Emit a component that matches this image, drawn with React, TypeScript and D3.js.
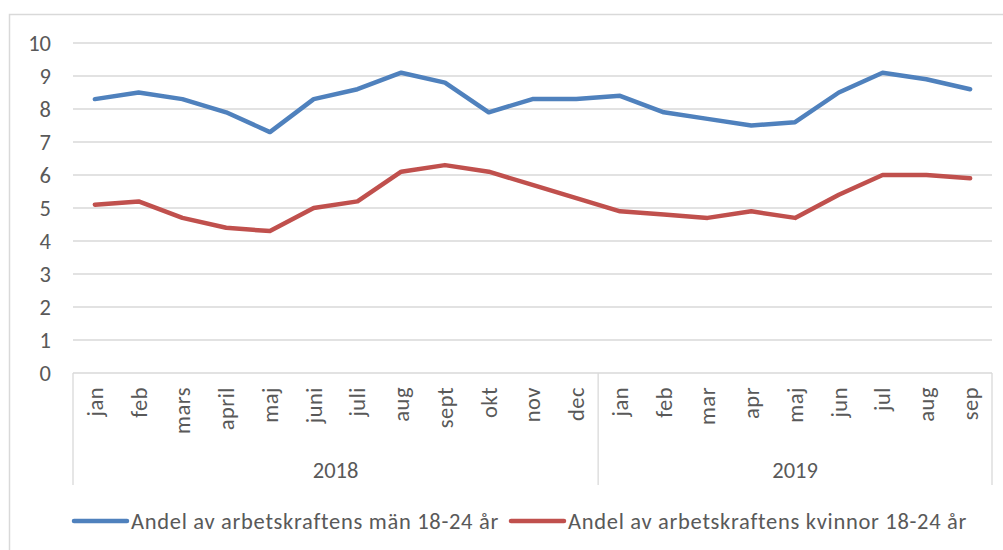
import React from 'react';
import * as d3 from 'd3';

const months = ['jan', 'feb', 'mars', 'april', 'maj', 'juni', 'juli', 'aug', 'sept', 'okt', 'nov', 'dec',
  'jan', 'feb', 'mar', 'apr', 'maj', 'jun', 'jul', 'aug', 'sep'];
const years = [
  { label: '2018', start: 0, end: 12 },
  { label: '2019', start: 12, end: 21 },
];
const men = [8.3, 8.5, 8.3, 7.9, 7.3, 8.3, 8.6, 9.1, 8.8, 7.9, 8.3, 8.3, 8.4, 7.9, 7.7, 7.5, 7.6, 8.5, 9.1, 8.9, 8.6];
const women = [5.1, 5.2, 4.7, 4.4, 4.3, 5.0, 5.2, 6.1, 6.3, 6.1, 5.7, 5.3, 4.9, 4.8, 4.7, 4.9, 4.7, 5.4, 6.0, 6.0, 5.9];
const yTicks = [0, 1, 2, 3, 4, 5, 6, 7, 8, 9, 10];

const series = [
  { name: 'Andel av arbetskraftens män 18-24 år', values: men, color: '#4F81BD' },
  { name: 'Andel av arbetskraftens kvinnor 18-24 år', values: women, color: '#C0504D' },
];

const FONT = 'Carlito, Calibri, "Open Sans", sans-serif';
const TEXT = '#595959';
const GRID = '#d9d9d9';
const FS = 22.5;

export default function App() {
  const width = 1003, height = 550;
  const left = 73, right = 992, top = 43, bottom = 373;
  const x = d3.scaleBand<number>().domain(d3.range(months.length)).range([left, right]);
  const y = d3.scaleLinear().domain([0, 10]).range([bottom, top]);
  const cx = (i: number) => (x(i) as number) + x.bandwidth() / 2;
  const line = d3.line<number>().x((_, i) => cx(i)).y(d => y(d));
  const axisBottom = 485;
  const edge = (i: number) => (i < months.length ? (x(i) as number) : right);

  return (
    <svg width={width} height={height} style={{ position: 'absolute', left: 0, top: 0 }} fontFamily={FONT}>
      <rect x={9.5} y={14.5} width={1000} height={560} fill="#fff" stroke={GRID} strokeWidth={1.5} />
      {yTicks.map(t => (
        <g key={t}>
          {t > 0 && <line x1={left} x2={right} y1={y(t)} y2={y(t)} stroke={GRID} strokeWidth={1.3} />}
          <text x={51} y={y(t)} dy="0.35em" textAnchor="end" fontSize={FS} fill={TEXT}>{t}</text>
        </g>
      ))}
      <line x1={left} x2={right} y1={bottom} y2={bottom} stroke={GRID} strokeWidth={1.3} />
      {[0, ...years.map(yr => yr.end)].map(i => (
        <line key={i} x1={edge(i)} x2={edge(i)} y1={bottom} y2={axisBottom} stroke={GRID} strokeWidth={1.3} />
      ))}
      {months.map((m, i) => (
        <text key={i} transform={`translate(${cx(i)},387) rotate(-90)`} dy="0.35em" textAnchor="end" fontSize={FS} letterSpacing={0.5} fill={TEXT}>{m}</text>
      ))}
      {years.map(yr => (
        <text key={yr.label} x={(edge(yr.start) + edge(yr.end)) / 2} y={470} dy="0.35em" textAnchor="middle" fontSize={FS} fill={TEXT}>{yr.label}</text>
      ))}
      {series.map(s => (
        <path key={s.name} d={line(s.values) ?? ''} fill="none" stroke={s.color} strokeWidth={4.5} strokeLinejoin="round" strokeLinecap="round" />
      ))}
      {series.map((s, k) => {
        const lx = k === 0 ? 74 : 511;
        return (
          <g key={s.name}>
            <line x1={lx} x2={lx + 53} y1={521} y2={521} stroke={s.color} strokeWidth={4.5} strokeLinecap="round" />
            <text x={lx + 57} y={521} dy="0.35em" fontSize={FS} letterSpacing={0.7} fill={TEXT}>{s.name}</text>
          </g>
        );
      })}
    </svg>
  );
}
